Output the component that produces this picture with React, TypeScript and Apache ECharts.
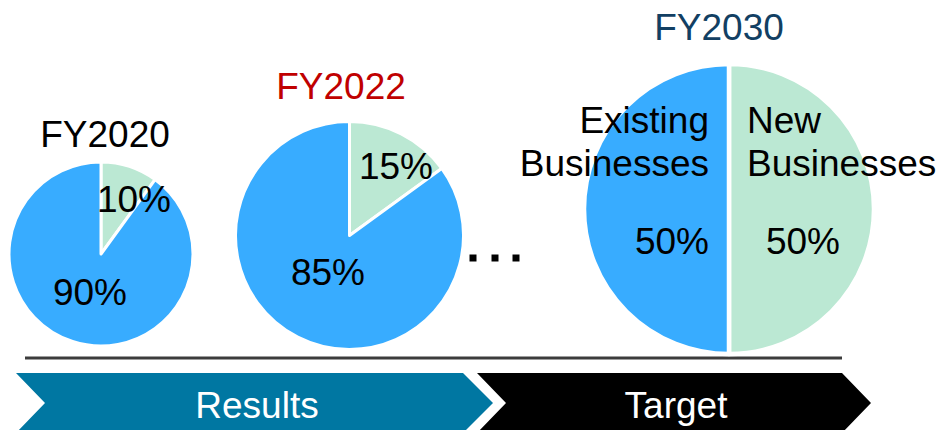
import React, { useEffect, useRef } from "react";
import * as echarts from "echarts";

const years = ["FY2020", "FY2022", "FY2030"];
const newShare = [10, 15, 50];
const existingShare = [90, 85, 50];
const segmentNames = ["New\nBusinesses", "Existing\nBusinesses"];
const phases = ["Results", "Target"];

const BLUE = "#38acff";
const GREEN = "#bbe8d3";
const FONT = "'Liberation Sans', Arial, sans-serif";
const FS = 37;

// layout (pixels)
const pieCenters: [number, number][] = [[101, 254], [349.5, 235.5], [729, 209]];
const pieRadii = [92, 114, 145];
const pieBorders = [3, 3, 4.5];
const titlePos: [number, number][] = [[105, 134], [341, 86], [719, 27]];
const titleColors = ["#000000", "#c00000", "#123f63"];
// label positions: [new, existing] per pie
const labelPos: [number, number][][] = [
  [[134, 199], [90, 292]],
  [[396, 166], [328, 272]],
  [[803, 241], [672, 241]],
];

export default function App() {
  const ref = useRef<HTMLDivElement>(null);
  useEffect(() => {
    if (!ref.current) return;
    const chart = echarts.init(ref.current, undefined, { renderer: "svg" });

    const series: any[] = years.map((y, i) => ({
      type: "pie",
      name: y,
      center: pieCenters[i],
      radius: [0, pieRadii[i]],
      startAngle: 90,
      clockwise: true,
      silent: true,
      avoidLabelOverlap: false,
      itemStyle: { borderColor: "#ffffff", borderWidth: pieBorders[i] },
      label: {
        show: true,
        position: "inside",
        formatter: (p: any) => `${p.value}%`,
        fontFamily: FONT,
        fontSize: FS,
        color: "#000",
      },
      labelLine: { show: false },
      labelLayout: (p: any) => {
        const pos = labelPos[i][p.dataIndex];
        return { x: pos[0], y: pos[1], align: "center", verticalAlign: "middle" };
      },
      data: [
        { name: "New Businesses", value: newShare[i], itemStyle: { color: GREEN } },
        { name: "Existing Businesses", value: existingShare[i], itemStyle: { color: BLUE } },
      ],
    }));

    const graphic: any[] = [];
    years.forEach((y, i) => {
      graphic.push({
        type: "text",
        x: titlePos[i][0],
        y: titlePos[i][1],
        style: {
          text: y,
          fontFamily: FONT,
          fontSize: FS,
          fill: titleColors[i],
          align: "center",
          verticalAlign: "middle",
        },
      });
    });
    // segment names on the target pie
    graphic.push({
      type: "text",
      x: 747,
      y: 141.5,
      z: 10,
      style: { text: segmentNames[0], fontFamily: FONT, fontSize: FS, fill: "#000", align: "left", verticalAlign: "middle", lineHeight: 43 },
    });
    graphic.push({
      type: "text",
      x: 709,
      y: 141.5,
      z: 10,
      style: { text: segmentNames[1], fontFamily: FONT, fontSize: FS, fill: "#000", align: "right", verticalAlign: "middle", lineHeight: 43 },
    });
    // ellipsis dots
    [473, 495, 516].forEach((cx) => {
      graphic.push({ type: "rect", shape: { x: cx - 3.5, y: 254.5, width: 7, height: 7 }, style: { fill: "#000" } });
    });
    // separator line
    graphic.push({ type: "line", shape: { x1: 25, y1: 358, x2: 842, y2: 358 }, style: { stroke: "#3c3c3c", lineWidth: 3 } });
    // chevrons
    graphic.push({
      type: "polygon",
      shape: { points: [[16, 373], [463, 373], [493, 403], [463, 433], [16, 433], [45, 403]] },
      style: { fill: "#0077a2" },
    });
    graphic.push({
      type: "polygon",
      shape: { points: [[477, 373], [842, 373], [871, 403], [842, 433], [477, 433], [506, 403]] },
      style: { fill: "#000000" },
    });
    graphic.push({
      type: "text", x: 257, y: 405,
      style: { text: phases[0], fontFamily: FONT, fontSize: FS, fill: "#fff", align: "center", verticalAlign: "middle" },
    });
    graphic.push({
      type: "text", x: 676, y: 405,
      style: { text: phases[1], fontFamily: FONT, fontSize: FS, fill: "#fff", align: "center", verticalAlign: "middle" },
    });

    chart.setOption({
      animation: false,
      backgroundColor: "#ffffff",
      series,
      graphic,
    });
    return () => chart.dispose();
  }, []);
  return (
    <div
      ref={ref}
      style={{ position: "fixed", left: 0, top: 0, width: 938, height: 430 }}
    />
  );
}
